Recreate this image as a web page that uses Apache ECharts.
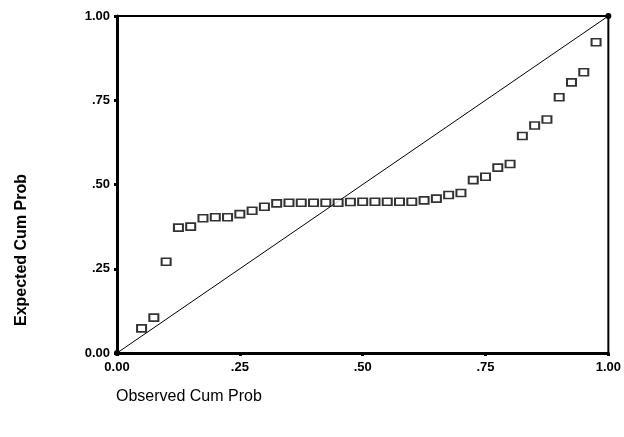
<!DOCTYPE html>
<html>
<head>
<meta charset="utf-8">
<script src="https://cdn.jsdelivr.net/npm/echarts@6/dist/echarts.min.js"></script>
<style>
  html, body { margin: 0; padding: 0; background: #fff; }
  #chart { width: 624px; height: 437px; }
</style>
</head>
<body>
<div id="chart"></div>
<script>
// observed cumulative probability (x) and expected cumulative probability (y)
var observed = [0.05, 0.075, 0.1, 0.125, 0.15, 0.175, 0.2, 0.225, 0.25, 0.275,
  0.3, 0.325, 0.35, 0.375, 0.4, 0.425, 0.45, 0.475, 0.5, 0.525,
  0.55, 0.575, 0.6, 0.625, 0.65, 0.675, 0.7, 0.725, 0.75, 0.775,
  0.8, 0.825, 0.85, 0.875, 0.9, 0.925, 0.95, 0.975]
var expected = [0.073, 0.105, 0.271, 0.372, 0.375, 0.4, 0.403, 0.403, 0.412, 0.422,
  0.434, 0.444, 0.446, 0.446, 0.446, 0.446, 0.446, 0.448, 0.449, 0.449,
  0.449, 0.449, 0.449, 0.453, 0.458, 0.469, 0.475, 0.513, 0.523, 0.55,
  0.561, 0.644, 0.675, 0.693, 0.759, 0.803, 0.833, 0.922]
var diagonal = [[0, 0], [1, 1]]
var tickLabels = ['0.00', '.25', '.50', '.75', '1.00']

var points = observed.map(function (x, i) { return [x, expected[i]] })

function tickText (v) {
  return tickLabels[Math.round(v * 4)]
}

var axisCommon = {
  type: 'value',
  min: 0,
  max: 1,
  interval: 0.25,
  splitLine: { show: false },
  axisLine: { show: true, lineStyle: { color: '#000', width: 3 } },
  axisTick: { show: true, length: 3, lineStyle: { color: '#000', width: 3 } },
  axisLabel: {
    formatter: tickText,
    color: '#000',
    fontFamily: 'Liberation Sans',
    fontWeight: 'bold',
    fontSize: 13
  }
}

var option = {
  animation: false,
  backgroundColor: '#fff',
  grid: {
    left: 117,
    right: 11,
    top: 16,
    bottom: 84,
    show: true,
    borderColor: '#000',
    borderWidth: 2
  },
  xAxis: Object.assign({}, axisCommon, {
    axisLabel: Object.assign({}, axisCommon.axisLabel, { margin: 8 })
  }),
  yAxis: Object.assign({}, axisCommon, {
    axisLabel: Object.assign({}, axisCommon.axisLabel, { margin: 7 })
  }),
  graphic: [
    {
      type: 'text',
      left: 116,
      top: 389,
      style: {
        text: 'Observed Cum Prob',
        fill: '#000',
        font: '16px "Liberation Sans"'
      }
    },
    {
      type: 'text',
      x: 22,
      y: 250,
      rotation: Math.PI / 2,
      style: {
        text: 'Expected Cum Prob',
        fill: '#000',
        font: 'bold 16px "Liberation Sans"',
        align: 'center',
        verticalAlign: 'middle'
      }
    }
  ],
  series: [
    {
      type: 'line',
      data: diagonal,
      symbol: 'circle',
      symbolSize: 6,
      itemStyle: { color: '#000' },
      lineStyle: { color: '#000', width: 1 },
      z: 1
    },
    {
      type: 'scatter',
      data: points,
      symbol: 'rect',
      symbolSize: [9, 7],
      itemStyle: { color: '#fff', borderColor: '#000', borderWidth: 1.8 },
      z: 2
    }
  ]
}

var myChart = echarts.init(document.getElementById('chart'))
myChart.setOption(option)
window.addEventListener('resize', function () {
  myChart.resize()
})
</script>
</body>
</html>
